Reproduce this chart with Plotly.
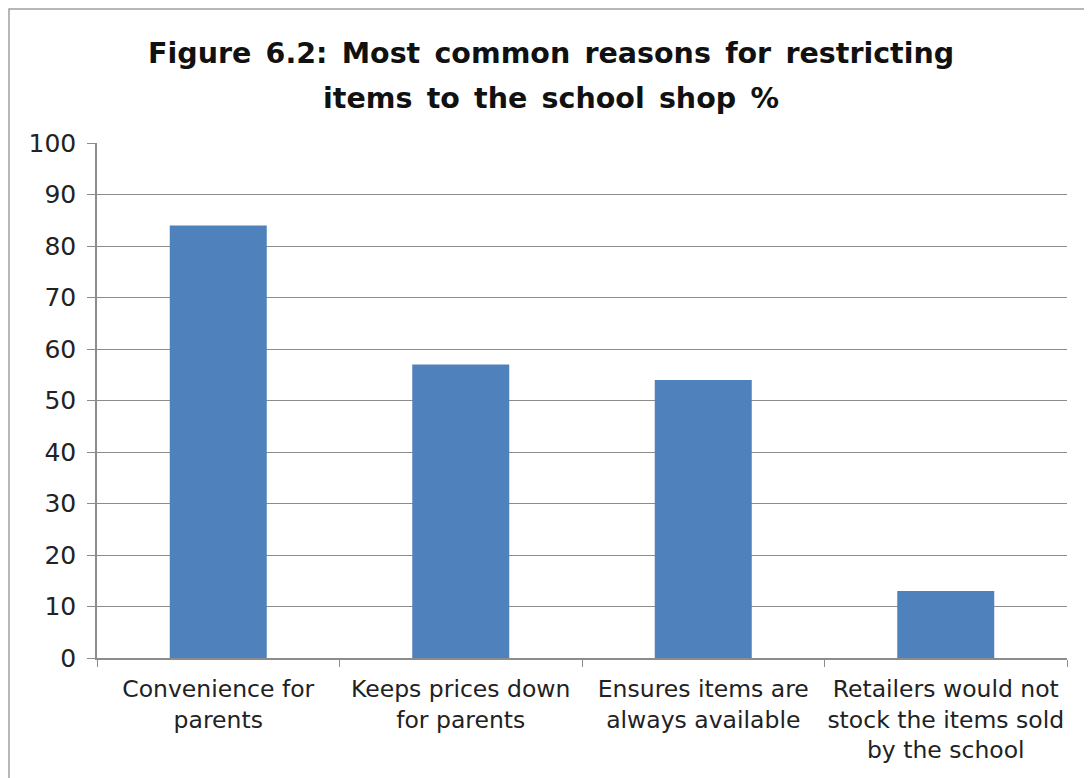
import plotly.graph_objects as go

categories = ["Convenience for<br>parents", "Keeps prices down<br>for parents",
              "Ensures items are<br>always available",
              "Retailers would not<br>stock the items sold<br>by the school"]
values = [84, 57, 54, 13]
y_ticks = list(range(0, 101, 10))
title_lines = ["Figure 6.2: Most common reasons for restricting",
               "items to the school shop %"]

fig = go.Figure(go.Bar(x=categories, y=values, marker=dict(color="#4F81BD", line=dict(width=0)),
                       hoverinfo="x+y"))

# page has an 8px body margin; figure coords = screen coords - 8
W, H = 1084, 770
ml, mr, mt, mb = 89, 25, 135, 120
pw, ph = W - ml - mr, H - mt - mb

def px_x(x):
    return (x - 8 - ml) / pw

def px_y(y):
    return (H - mb - (y - 8)) / ph

annotations = []
for txt, yc in zip(title_lines, [53, 98]):
    annotations.append(dict(text="<b>" + txt.replace(" ", "\u2002") + "</b>", xref="paper", yref="paper",
                            x=px_x(551), y=px_y(yc), xanchor="center", yanchor="middle",
                            showarrow=False,
                            font=dict(family="DejaVu Sans", size=28.5, color="#111")))

fig.update_layout(
    width=W, height=H,
    margin=dict(l=ml, r=mr, t=mt, b=mb, autoexpand=False),
    paper_bgcolor="white", plot_bgcolor="white",
    bargap=0.6,
    showlegend=False,
    annotations=annotations,
    font=dict(family="DejaVu Sans", size=23.5, color="#222"),
    xaxis=dict(type="category", showline=True, linecolor="#8c8c8c", linewidth=1.5,
               ticks="outside", tickson="boundaries", ticklen=7, tickcolor="#8c8c8c",
               ticklabelstandoff=9, tickangle=0,
               showgrid=False, tickfont=dict(size=23.5, family="DejaVu Sans", color="#222")),
    yaxis=dict(range=[0, 100], tickvals=y_ticks, showline=True, linecolor="#8c8c8c", linewidth=1.5,
               ticks="outside", ticklen=8, tickcolor="#8c8c8c", ticklabelstandoff=6,
               showgrid=True, gridcolor="#8c8c8c", gridwidth=1.2, zeroline=False,
               tickfont=dict(size=25, family="DejaVu Sans", color="#222")),
    shapes=[dict(type="rect", xref="paper", yref="paper",
                 x0=px_x(9), x1=px_x(1087), y0=px_y(800), y1=px_y(9),
                 line=dict(color="#a0a0a0", width=1.5), fillcolor="rgba(0,0,0,0)", layer="below")],
)

fig.write_html("out.html")
